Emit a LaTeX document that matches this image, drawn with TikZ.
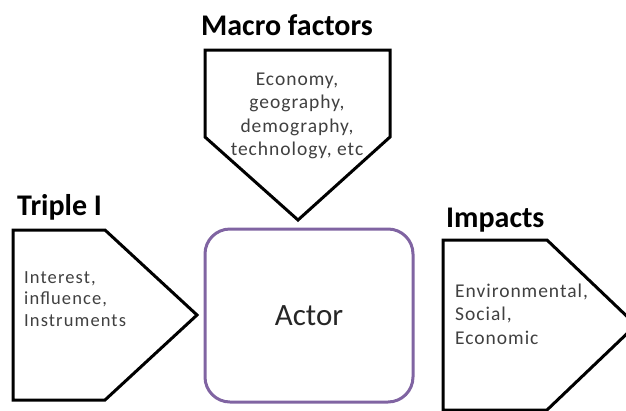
\documentclass[tikz,border=0pt]{standalone}
\usepackage{fontspec}
\setmainfont{Carlito}
\definecolor{actorpurple}{HTML}{8064A2}
\definecolor{bodygray}{HTML}{404040}
\begin{document}
\begin{tikzpicture}[x=1pt,y=-1pt,
  shapeline/.style={draw=black, line width=3pt, line join=miter, fill=white},
  heading/.style={font=\bfseries\fontsize{30}{36}\selectfont, text=black, inner sep=0pt},
  bodytext/.style={font=\fontsize{19.5}{23.5}\selectfont\addfontfeature{LetterSpace=5}, text=bodygray, inner sep=0pt},
]
\useasboundingbox (0,0) rectangle (626,410);
\clip (0,0) rectangle (626,410);

% pentagon arrows
\draw[shapeline] (205,50) -- (390,50) -- (390,137) -- (298,220) -- (205,137) -- cycle;
\draw[shapeline] (13,230) -- (105,230) -- (197,315) -- (105,400) -- (13,400) -- cycle;
\draw[shapeline] (443,240) -- (547,240) -- (636,325) -- (547,410) -- (443,410) -- cycle;

% central actor box
\node[draw=actorpurple, line width=3pt, rounded corners=25pt,
      minimum width=208pt, minimum height=173pt,
      font=\fontsize{31}{37}\selectfont, text=black!85] (actor) at (309,315.5) {Actor};

% headings
\node[heading, anchor=base] (macrotitle) at (287,35) {Macro factors};
\node[heading, anchor=base west] (tripletitle) at (17,215) {Triple I};
\node[heading, anchor=base west] (impacttitle) at (446,227) {Impacts};

% box contents
\node[bodytext, align=center] (macrotext) at (297,116) {Economy,\\geography,\\demography,\\technology, etc};
\node[bodytext, align=left, anchor=west, font=\fontsize{18.5}{21.5}\selectfont\addfontfeature{LetterSpace=6}] (tripletext) at (24,299) {Interest,\\influence,\\Instruments};
\node[bodytext, align=left, anchor=west] (impacttext) at (455,314) {Environmental,\\Social,\\Economic};
\end{tikzpicture}
\end{document}
